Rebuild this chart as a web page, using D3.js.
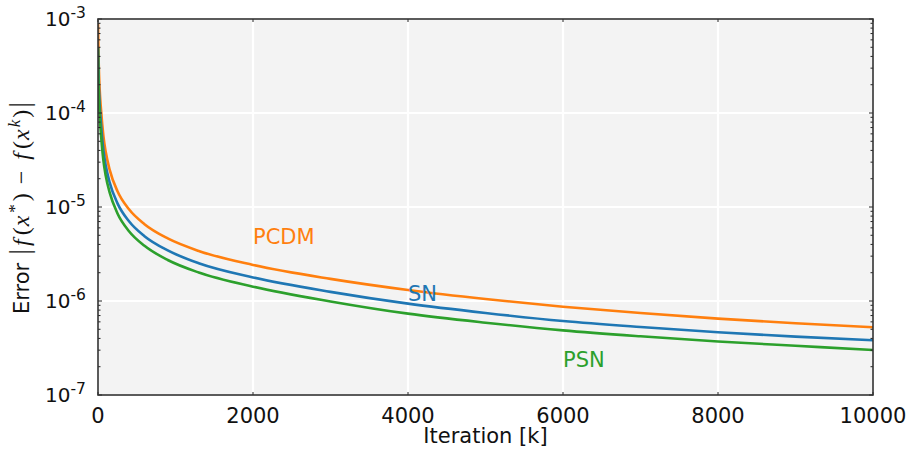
<!DOCTYPE html>
<html><head><meta charset="utf-8">
<script src="https://cdn.jsdelivr.net/npm/d3@7"></script>
<style>
html,body{margin:0;padding:0;background:#fff;}
svg{display:block;}
text{font-family:"DejaVu Sans",sans-serif;}
</style></head>
<body>
<svg id="chart" width="911" height="451"></svg>
<script>
// ---- data ----
const iterations = [0, 5, 10, 20, 40, 70, 100, 150, 250, 400, 600, 900, 1300, 2000, 3000, 4000, 5000, 6000, 7000, 8000, 9000, 10000];
const pcdm = [9e-4, 5.0e-4, 3.2e-4, 1.9e-4, 1.06e-4, 5.66e-5, 3.84e-5, 2.50e-5, 1.48e-5, 9.45e-6, 6.56e-6, 4.63e-6, 3.41e-6, 2.42e-6, 1.72e-6, 1.31e-6, 1.05e-6, 8.7e-7, 7.45e-7, 6.5e-7, 5.8e-7, 5.25e-7];
const sn   = [4.9e-4, 3.1e-4, 2.08e-4, 1.29e-4, 7.4e-5, 4.02e-5, 2.76e-5, 1.83e-5, 1.10e-5, 7.04e-6, 4.89e-6, 3.45e-6, 2.52e-6, 1.78e-6, 1.25e-6, 9.37e-7, 7.46e-7, 6.13e-7, 5.29e-7, 4.65e-7, 4.18e-7, 3.82e-7];
const psn  = [4.9e-4, 2.5e-4, 1.6e-4, 9.9e-5, 5.72e-5, 3.11e-5, 2.15e-5, 1.43e-5, 8.58e-6, 5.53e-6, 3.87e-6, 2.73e-6, 2.01e-6, 1.42e-6, 9.9e-7, 7.34e-7, 5.88e-7, 4.87e-7, 4.21e-7, 3.71e-7, 3.34e-7, 3.01e-7];
const seriesNames = ["PCDM", "SN", "PSN"];
const seriesColors = ["#ff7f0e", "#1f77b4", "#2ca02c"];
const labelIters = [2000, 4000, 6000];
const labelValues = [4e-6, 1e-6, 2e-7];
const xTicks = [0, 2000, 4000, 6000, 8000, 10000];
const yExponents = [-7, -6, -5, -4, -3];

// ---- layout ----
const L = 98, R = 873, T = 19, B = 395;
const svg = d3.select("#chart");
const x = d3.scaleLinear().domain([0, 10000]).range([L, R]);
const y = d3.scaleLog().domain([1e-7, 1e-3]).range([B, T]);

svg.append("rect").attr("x", L).attr("y", T).attr("width", R - L).attr("height", B - T).attr("fill", "#f3f3f3");

svg.append("defs").append("clipPath").attr("id", "clip")
  .append("rect").attr("x", L).attr("y", T).attr("width", R - L).attr("height", B - T);

// grid
const grid = svg.append("g").attr("stroke", "#ffffff").attr("stroke-width", 2.2);
xTicks.forEach(t => grid.append("line").attr("x1", x(t)).attr("x2", x(t)).attr("y1", T).attr("y2", B));
yExponents.forEach(e => grid.append("line").attr("x1", L).attr("x2", R).attr("y1", y(Math.pow(10, e))).attr("y2", y(Math.pow(10, e))));

// lines
const line = d3.line().x(d => x(d[0])).y(d => y(d[1])).curve(d3.curveMonotoneX);
const allSeries = [pcdm, sn, psn];
const lg = svg.append("g").attr("clip-path", "url(#clip)");
[0, 1, 2].forEach(i => {
  lg.append("path").datum(iterations.map((k, j) => [k, allSeries[i][j]]))
    .attr("d", line).attr("fill", "none").attr("stroke", seriesColors[i]).attr("stroke-width", 2.6);
});

// ticks (inside)
const tk = svg.append("g").attr("stroke", "#222").attr("stroke-width", 1);
const minor = y.ticks().filter(v => Math.abs(Math.log10(v) - Math.round(Math.log10(v))) > 1e-6);
minor.forEach(v => {
  tk.append("line").attr("x1", L).attr("x2", L + 2.5).attr("y1", y(v)).attr("y2", y(v));
  tk.append("line").attr("x1", R - 2.5).attr("x2", R).attr("y1", y(v)).attr("y2", y(v));
});
yExponents.forEach(e => {
  const v = Math.pow(10, e);
  tk.append("line").attr("x1", L).attr("x2", L + 4).attr("y1", y(v)).attr("y2", y(v));
  tk.append("line").attr("x1", R - 4).attr("x2", R).attr("y1", y(v)).attr("y2", y(v));
});
xTicks.forEach(t => {
  tk.append("line").attr("x1", x(t)).attr("x2", x(t)).attr("y1", B).attr("y2", B - 3);
  tk.append("line").attr("x1", x(t)).attr("x2", x(t)).attr("y1", T).attr("y2", T + 3);
});

// frame
svg.append("rect").attr("x", L).attr("y", T).attr("width", R - L).attr("height", B - T)
  .attr("fill", "none").attr("stroke", "#333").attr("stroke-width", 1.6);

// x tick labels
svg.append("g").selectAll("text").data(xTicks).join("text")
  .attr("x", d => x(d)).attr("y", 423).attr("text-anchor", "middle")
  .attr("font-size", 21).attr("fill", "#111").text(d => d);

// y tick labels
yExponents.forEach(e => {
  const t = svg.append("text").attr("x", 86).attr("y", y(Math.pow(10, e)) + 7)
    .attr("text-anchor", "end").attr("font-size", 20).attr("fill", "#111");
  t.append("tspan").text("10");
  t.append("tspan").attr("dy", -8.5).attr("font-size", 15.5).text(String(e));
});

// axis labels
svg.append("text").attr("x", (L + R) / 2).attr("y", 443).attr("text-anchor", "middle")
  .attr("font-size", 21).attr("fill", "#111").text("Iteration [k]");

const yl = svg.append("text").attr("transform", `translate(28.5,${(T + B) / 2 + 1}) rotate(-90)`)
  .attr("text-anchor", "middle").attr("font-size", 21).attr("fill", "#111");
const mf = "'Liberation Serif', serif";
function m(txt, opt) {
  const s = yl.append("tspan").attr("font-family", mf).attr("font-size", opt.size || 24).text(txt);
  if (opt.it) s.attr("font-style", "italic");
  if (opt.dx) s.attr("dx", opt.dx);
  if (opt.dy) s.attr("dy", opt.dy);
  return s;
}
yl.append("tspan").text("Error");
m("|", {size: 29, dx: 8});
m("f", {it: true, dx: 3});
m("(", {dx: 4});
m("x", {it: true, dx: 1});
m("*", {size: 17, dx: 3, dy: -9});
m(")", {dx: 3, dy: 9});
m("\u2212", {dx: 9});
m("f", {it: true, dx: 11});
m("(", {dx: 4});
m("x", {it: true, dx: 1});
m("k", {it: true, size: 17, dx: 2, dy: -9});
m(")", {dx: 2, dy: 9});
m("|", {size: 29, dx: 2});

// series labels
seriesNames.forEach((n, i) => {
  svg.append("text").attr("x", x(labelIters[i])).attr("y", y(labelValues[i]))
    .attr("font-size", 21).attr("fill", seriesColors[i]).text(n);
});
</script>
</body></html>
